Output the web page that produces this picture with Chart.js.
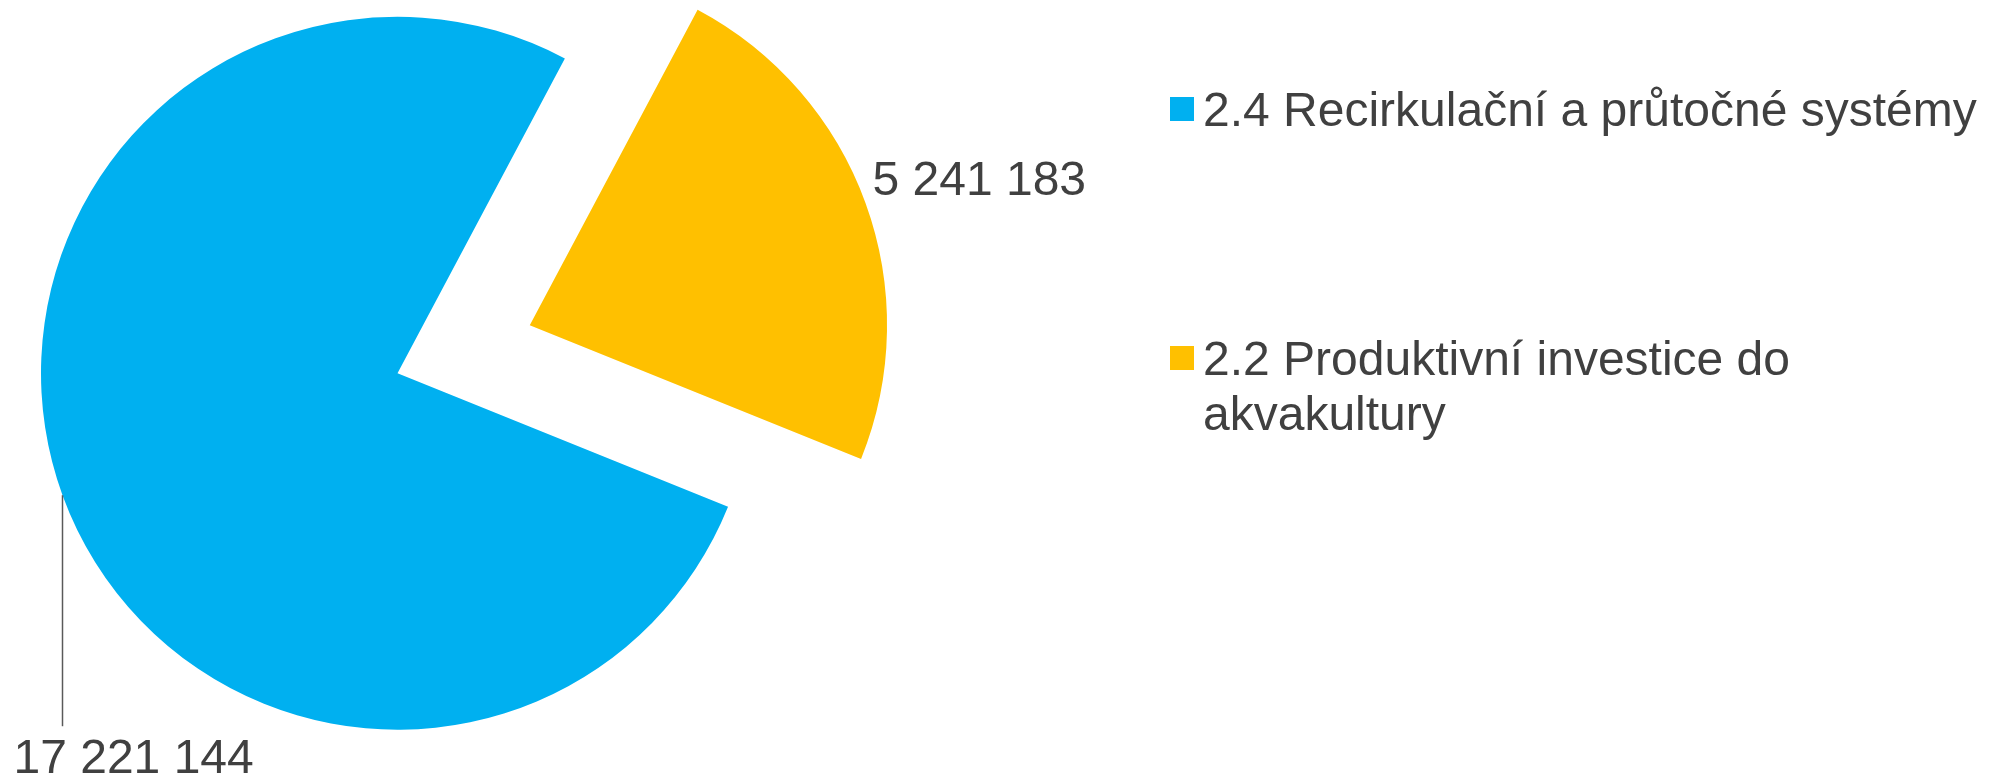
<!DOCTYPE html>
<html>
<head>
<meta charset="utf-8">
<script src="https://cdn.jsdelivr.net/npm/chart.js@4"></script>
<style>
  html, body { margin: 0; padding: 0; background: #fff; }
  #wrap { width: 2004px; height: 775px; position: relative; }
</style>
</head>
<body>
<div id="wrap"><canvas id="pieChart" width="2004" height="775"></canvas></div>
<script>
// data
const labels = ['2.4 Recirkulační a průtočné systémy', '2.2 Produktivní investice do akvakultury'];
const values = [17221144, 5241183];
const colors = ['#00B0F0', '#FFC000'];

// styles
const textColor = '#404040';
const fontSize = 48;
const fontFamily = '"Liberation Sans", Arial, sans-serif';
const explode = [0, 563];           // arc offset (chart.js divides by 4)
const labelPos = [
  { dx: -49, dy: 278, leader: 231 },  // blue: vertical leader line down
  { dx: 7, dy: -8, leader: 0 }
];

function fmt(v) {
  return String(v).replace(/\B(?=(\d{3})+(?!\d))/g, ' ');
}

// data labels
const labelPlugin = {
  id: 'pieLabels',
  afterDatasetsDraw(chart) {
    const ctx = chart.ctx;
    const meta = chart.getDatasetMeta(0);
    ctx.save();
    ctx.font = fontSize + 'px ' + fontFamily;
    ctx.fillStyle = textColor;
    ctx.textBaseline = 'alphabetic';
    meta.data.forEach((arc, i) => {
      const p = arc.getProps(['x', 'y', 'startAngle', 'endAngle', 'outerRadius', 'circumference']);
      const mid = (p.startAngle + p.endAngle) / 2;
      const off = (arc.options.offset || 0) / 4 * (2 - Math.sin(Math.min(Math.PI, p.circumference)));
      const cx = p.x + Math.cos(mid) * off;
      const cy = p.y + Math.sin(mid) * off;
      const ax = cx + Math.cos(mid) * p.outerRadius;
      const ay = cy + Math.sin(mid) * p.outerRadius;
      const lp = labelPos[i];
      if (lp.leader) {
        ctx.strokeStyle = '#595959';
        ctx.lineWidth = 1.5;
        ctx.beginPath();
        ctx.moveTo(ax, ay);
        ctx.lineTo(ax, ay + lp.leader);
        ctx.stroke();
      }
      ctx.fillText(fmt(values[i]), ax + lp.dx, ay + lp.dy);
    });
    ctx.restore();
  }
};

// legend on the right, with word wrap
const legendPlugin = {
  id: 'sideLegend',
  afterDraw(chart) {
    const ctx = chart.ctx;
    const ds = chart.data.datasets[0];
    const boxX = 1170, box = 24, textX = 1203, maxW = 790, lineH = 55;
    const centers = [109, 358];
    ctx.save();
    ctx.font = fontSize + 'px ' + fontFamily;
    ctx.textBaseline = 'alphabetic';
    chart.data.labels.forEach((lab, i) => {
      const cy = centers[i];
      ctx.fillStyle = ds.backgroundColor[i];
      ctx.fillRect(boxX, cy - box / 2, box, box);
      // wrap
      const words = lab.split(' ');
      const lines = [];
      let cur = '';
      words.forEach(w => {
        const t = cur ? cur + ' ' + w : w;
        if (ctx.measureText(t).width > maxW && cur) {
          lines.push(cur);
          cur = w;
        } else {
          cur = t;
        }
      });
      lines.push(cur);
      ctx.fillStyle = textColor;
      lines.forEach((ln, k) => {
        ctx.fillText(ln, textX, cy + 17 + k * lineH);
      });
    });
    ctx.restore();
  }
};

new Chart(document.getElementById('pieChart'), {
  type: 'pie',
  data: {
    labels: labels,
    datasets: [{
      data: values,
      backgroundColor: colors,
      borderWidth: 0,
      offset: explode
    }]
  },
  options: {
    responsive: false,
    animation: false,
    rotation: 112,
    radius: 356.5,
    layout: { padding: { left: 0, top: 0, right: 1209, bottom: 28.4 } },
    plugins: {
      legend: { display: false },
      tooltip: { enabled: false }
    }
  },
  plugins: [labelPlugin, legendPlugin]
});
</script>
</body>
</html>
